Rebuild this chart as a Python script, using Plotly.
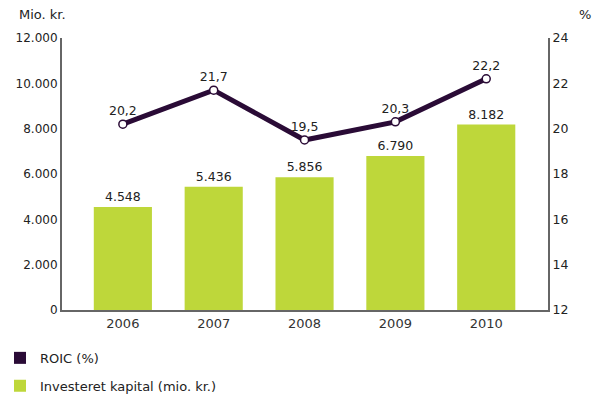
import plotly.graph_objects as go

years = ["2006", "2007", "2008", "2009", "2010"]
kapital = [4548, 5436, 5856, 6790, 8182]
roic = [20.2, 21.7, 19.5, 20.3, 22.2]

bar_color = "#BED73A"
line_color = "#2A0B36"
axis_color = "#666666"
font_family = "DejaVu Sans"

fig = go.Figure()

fig.add_trace(go.Bar(
    x=years, y=kapital, name="Investeret kapital (mio. kr.)",
    marker=dict(color=bar_color, line=dict(width=0)),
    width=0.64,
    text=kapital, texttemplate="%{y:,}", textposition="outside",
    textfont=dict(size=12.5, color="#222222", family=font_family),
    cliponaxis=False, showlegend=False, yaxis="y",
))

fig.add_trace(go.Scatter(
    x=years, y=roic, name="ROIC (%)", mode="lines+markers+text",
    line=dict(color=line_color, width=5),
    marker=dict(size=8, color="white", line=dict(color=line_color, width=1.5)),
    text=roic, texttemplate="%{y:.1f}", textposition="top center",
    textfont=dict(size=12.5, color="#222222", family=font_family),
    cliponaxis=False, showlegend=False, yaxis="y2",
))

# legend entries (square symbols)
fig.add_trace(go.Scatter(
    x=[None], y=[None], mode="markers", name="ROIC (%)",
    marker=dict(symbol="square", size=12, color=line_color),
    legendgroup="a", yaxis="y2",
))
fig.add_trace(go.Scatter(
    x=[None], y=[None], mode="markers", name="Investeret kapital (mio. kr.)",
    marker=dict(symbol="square", size=12, color=bar_color),
    legendgroup="b", yaxis="y2",
))

fig.update_layout(
    width=602, height=402,
    margin=dict(l=62, r=54, t=38, b=92, autoexpand=False),
    paper_bgcolor="white", plot_bgcolor="white",
    separators=",.",
    font=dict(family=font_family, size=12, color="#222222"),
    xaxis=dict(
        type="category", range=[-0.67, 4.68],
        showline=True, linecolor=axis_color, linewidth=2,
        showgrid=False, ticks="", tickfont=dict(size=13, color="#333333"),
    ),
    yaxis=dict(
        range=[0, 12000], dtick=2000, tickformat=",d",
        showline=True, linecolor=axis_color, linewidth=2,
        showgrid=False, zeroline=False, ticks="",
        tickfont=dict(size=12, color="#222222"),
    ),
    yaxis2=dict(
        range=[12, 24], dtick=2, overlaying="y", side="right",
        showline=True, linecolor=axis_color, linewidth=2,
        showgrid=False, zeroline=False, ticks="",
        tickfont=dict(size=12.5, color="#222222"),
    ),
    legend=dict(
        orientation="v", xref="container", yref="container",
        x=0.0, xanchor="left", y=0.147, yanchor="top",
        font=dict(size=13, color="#222222", family=font_family),
        tracegroupgap=8, bgcolor="rgba(0,0,0,0)",
    ),
    showlegend=True,
    annotations=[
        dict(text="Mio. kr.", xref="paper", yref="paper", x=-0.1, y=1.0,
             xanchor="left", yanchor="middle", yshift=24, xshift=4, showarrow=False,
             font=dict(size=13, color="#222222")),
        dict(text="%", xref="paper", yref="paper", x=1.0, y=1.0,
             xanchor="center", yanchor="middle", xshift=37, yshift=24, showarrow=False,
             font=dict(size=13, color="#222222")),
    ],
)

fig.write_html("out.html", config={"displayModeBar": False},
               post_script="document.body.style.margin='0';")
